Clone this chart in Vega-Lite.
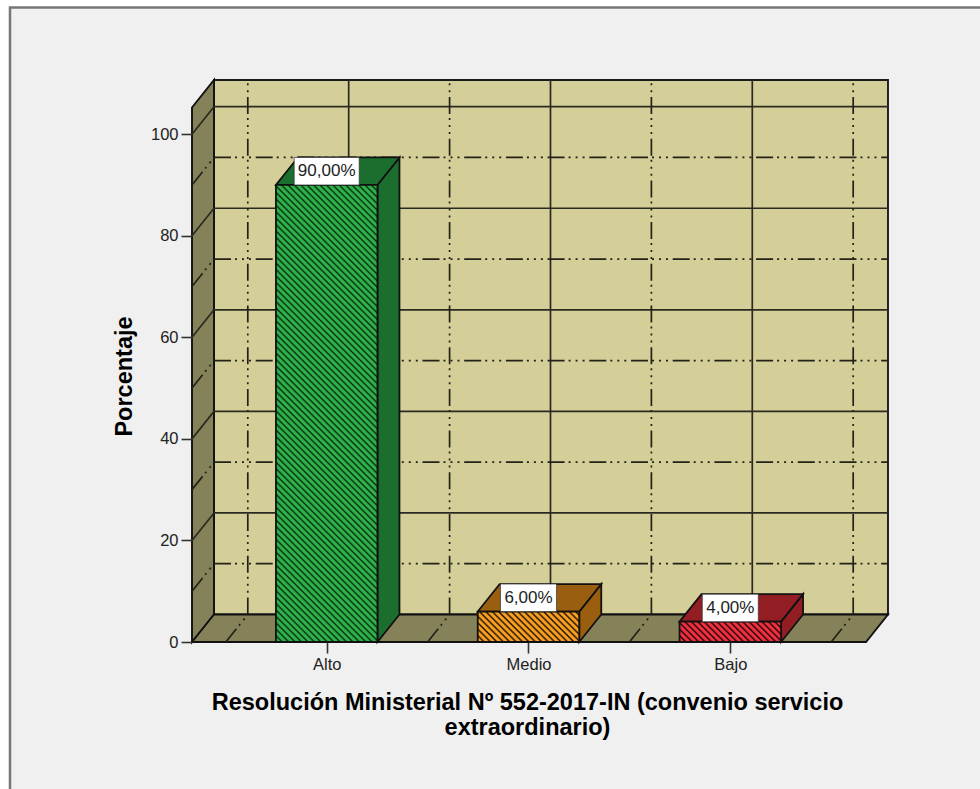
{"$schema":"https://vega.github.io/schema/vega-lite/v6.json","width":696,"height":562,"autosize":"none","padding":{"left":192,"top":80,"right":92,"bottom":147},"background":"#ffffff","config":{"view":{"stroke":null}},
"datasets":{
"barras":[{"nivel":"Alto","x":0,"y":90,"etiqueta":"90,00%"},{"nivel":"Medio","x":1,"y":6,"etiqueta":"6,00%"},{"nivel":"Bajo","x":2,"y":4,"etiqueta":"4,00%"}],
"lateral":[{"nivel":"Alto","x":0.2515,"y":0,"y2":90},{"nivel":"Alto","x":0.3605,"y":5.416,"y2":95.416},{"nivel":"Medio","x":1.2515,"y":0,"y2":6},{"nivel":"Medio","x":1.3605,"y":5.416,"y2":11.416},{"nivel":"Bajo","x":2.2515,"y":0,"y2":4},{"nivel":"Bajo","x":2.3605,"y":5.416,"y2":9.416}],
"superior":[{"nivel":"Alto","y":90,"x":-0.2515,"x2":0.2515},{"nivel":"Alto","y":95.416,"x":-0.1425,"x2":0.3605},{"nivel":"Medio","y":6,"x":0.7485,"x2":1.2515},{"nivel":"Medio","y":11.416,"x":0.8575,"x2":1.3605},{"nivel":"Bajo","y":4,"x":1.7485,"x2":2.2515},{"nivel":"Bajo","y":9.416,"x":1.8575,"x2":2.3605}],
"rejilla":[
{"t":"M","x":-0.5585,"x2":2.7815,"y":25.416,"y2":25.416},{"t":"M","x":-0.5585,"x2":2.7815,"y":45.416,"y2":45.416},{"t":"M","x":-0.5585,"x2":2.7815,"y":65.416,"y2":65.416},{"t":"M","x":-0.5585,"x2":2.7815,"y":85.416,"y2":85.416},{"t":"M","x":-0.5585,"x2":2.7815,"y":105.416,"y2":105.416},
{"t":"m","x":-0.5585,"x2":2.7815,"y":15.416,"y2":15.416},{"t":"m","x":-0.5585,"x2":2.7815,"y":35.416,"y2":35.416},{"t":"m","x":-0.5585,"x2":2.7815,"y":55.416,"y2":55.416},{"t":"m","x":-0.5585,"x2":2.7815,"y":75.416,"y2":75.416},{"t":"m","x":-0.5585,"x2":2.7815,"y":95.416,"y2":95.416},
{"t":"M","x":-0.6675,"x2":-0.5585,"y":20,"y2":25.416},{"t":"M","x":-0.6675,"x2":-0.5585,"y":40,"y2":45.416},{"t":"M","x":-0.6675,"x2":-0.5585,"y":60,"y2":65.416},{"t":"M","x":-0.6675,"x2":-0.5585,"y":80,"y2":85.416},{"t":"M","x":-0.6675,"x2":-0.5585,"y":100,"y2":105.416},
{"t":"m","x":-0.6675,"x2":-0.5585,"y":10,"y2":15.416},{"t":"m","x":-0.6675,"x2":-0.5585,"y":30,"y2":35.416},{"t":"m","x":-0.6675,"x2":-0.5585,"y":50,"y2":55.416},{"t":"m","x":-0.6675,"x2":-0.5585,"y":70,"y2":75.416},{"t":"m","x":-0.6675,"x2":-0.5585,"y":90,"y2":95.416},
{"t":"M","x":0.109,"x2":0.109,"y":5.416,"y2":110.67},{"t":"M","x":1.109,"x2":1.109,"y":5.416,"y2":110.67},{"t":"M","x":2.109,"x2":2.109,"y":5.416,"y2":110.67},
{"t":"v","x":-0.391,"x2":-0.391,"y":110.67,"y2":5.416},{"t":"v","x":0.609,"x2":0.609,"y":110.67,"y2":5.416},{"t":"v","x":1.609,"x2":1.609,"y":110.67,"y2":5.416},{"t":"v","x":2.609,"x2":2.609,"y":110.67,"y2":5.416},
{"t":"m","x":-0.5,"x2":-0.391,"y":0,"y2":5.416},{"t":"m","x":0.5,"x2":0.609,"y":0,"y2":5.416},{"t":"m","x":1.5,"x2":1.609,"y":0,"y2":5.416},{"t":"m","x":2.5,"x2":2.609,"y":0,"y2":5.416}
]},
"encoding":{
"x":{"field":"x","type":"quantitative","scale":{"domain":[-0.6675,2.7815],"nice":false,"zero":false},"axis":{"values":[0,1,2],"labelExpr":"datum.value==0?'Alto':datum.value==1?'Medio':'Bajo'","domain":false,"grid":false,"zindex":1,"tickSize":11,"tickWidth":1.6,"tickColor":"#333333","labelFont":"Liberation Sans","labelFontSize":16.5,"labelColor":"#222222","labelPadding":3,"labelFlush":false,"labelOverlap":false,"title":["Resolución Ministerial Nº 552-2017-IN (convenio servicio","extraordinario)"],"titleFont":"Liberation Sans","titleFontWeight":"bold","titleFontSize":23.5,"titleColor":"#000000","titleLineHeight":25,"titleX":335,"titleY":48,"titleBaseline":"top","titleAlign":"center"}},
"y":{"field":"y","type":"quantitative","scale":{"domain":[0,110.67],"nice":false,"zero":false},"axis":{"values":[0,20,40,60,80,100],"domain":false,"grid":false,"zindex":1,"tickSize":11,"tickWidth":1.6,"tickColor":"#333333","labelFont":"Liberation Sans","labelFontSize":16.5,"labelColor":"#222222","labelPadding":3,"labelFlush":false,"labelOverlap":false,"title":"Porcentaje","titleFont":"Liberation Sans","titleFontWeight":"bold","titleFontSize":23.5,"titleColor":"#000000","titleX":-68,"titleY":296,"titleAngle":-90,"titleAlign":"center","titleBaseline":"middle"}}
},
"layer":[
{"data":{"values":[{"x":-1.5694,"x2":3.3,"y":124.95,"y2":-30}]},"mark":{"type":"rect","fill":"#f0f0f0","stroke":"#777777","strokeWidth":2.5},"encoding":{"x2":{"field":"x2"},"y2":{"field":"y2"}}},
{"data":{"values":[{"x":-0.5585,"x2":2.7815,"y":5.416,"y2":110.67}]},"mark":{"type":"rect","fill":"#d4ce98","stroke":"#1a1a1a","strokeWidth":1.9},"encoding":{"x2":{"field":"x2"},"y2":{"field":"y2"}}},
{"data":{"values":[{"x":-0.6675,"y":0,"y2":105.25},{"x":-0.5585,"y":5.416,"y2":110.67}]},"mark":{"type":"area","fill":"#858159","stroke":"#111111","strokeWidth":1.9},"encoding":{"y2":{"field":"y2"}}},
{"data":{"values":[{"y":0,"x":-0.6675,"x2":2.6725},{"y":5.416,"x":-0.5585,"x2":2.7815}]},"mark":{"type":"area","orient":"horizontal","fill":"#858159","stroke":"#111111","strokeWidth":1.9},"encoding":{"x2":{"field":"x2"}}},
{"data":{"name":"rejilla"},"transform":[{"filter":"datum.t=='M'"}],"mark":{"type":"rule","color":"#2a2a20","strokeWidth":1.7},"encoding":{"x2":{"field":"x2"},"y2":{"field":"y2"}}},
{"data":{"name":"rejilla"},"transform":[{"filter":"datum.t=='m'"}],"mark":{"type":"rule","color":"#222218","strokeWidth":1.7,"strokeDash":[17,4,2,5,2,5,2,4.7]},"encoding":{"x2":{"field":"x2"},"y2":{"field":"y2"}}},
{"data":{"name":"rejilla"},"transform":[{"filter":"datum.t=='v'"}],"mark":{"type":"rule","color":"#222218","strokeWidth":1.7,"strokeDash":[17,4,2,5,2,5,2,4.7],"strokeDashOffset":24.7},"encoding":{"x2":{"field":"x2"},"y2":{"field":"y2"}}},
{"data":{"name":"lateral"},"mark":{"type":"area","stroke":"#111111","strokeWidth":1.8},"encoding":{"y2":{"field":"y2"},"detail":{"field":"nivel"},"color":{"field":"nivel","legend":null,"scale":{"domain":["Alto","Medio","Bajo"],"range":["#1b6e2e","#9a5e10","#921e24"]}}}},
{"data":{"name":"superior"},"mark":{"type":"area","orient":"horizontal","stroke":"#111111","strokeWidth":1.8},"encoding":{"x2":{"field":"x2"},"detail":{"field":"nivel"},"color":{"field":"nivel","legend":null,"scale":{"domain":["Alto","Medio","Bajo"],"range":["#1b6e2e","#9a5e10","#921e24"]}}}},
{"data":{"name":"barras"},"transform":[{"filter":"datum.nivel=='Alto'"}],"mark":{"type":"rect","width":101.5,"stroke":"#111111","strokeWidth":1.8,"fill":{"gradient":"linear","x1":0,"y1":1,"x2":0.2587,"y2":-0.1647,"stops":[
{"offset":0,"color":"#0a2a12"},{"offset":0.0035,"color":"#2db34a"},{"offset":0.008,"color":"#2db34a"},
{"offset":0.0115,"color":"#0a2a12"},{"offset":0.015,"color":"#2db34a"},{"offset":0.0195,"color":"#2db34a"},
{"offset":0.023,"color":"#0a2a12"},{"offset":0.0265,"color":"#2db34a"},{"offset":0.031,"color":"#2db34a"},
{"offset":0.0345,"color":"#0a2a12"},{"offset":0.038,"color":"#2db34a"},{"offset":0.0425,"color":"#2db34a"},
{"offset":0.046,"color":"#0a2a12"},{"offset":0.0495,"color":"#2db34a"},{"offset":0.054,"color":"#2db34a"},
{"offset":0.0575,"color":"#0a2a12"},{"offset":0.061,"color":"#2db34a"},{"offset":0.0655,"color":"#2db34a"},
{"offset":0.069,"color":"#0a2a12"},{"offset":0.0725,"color":"#2db34a"},{"offset":0.077,"color":"#2db34a"},
{"offset":0.0805,"color":"#0a2a12"},{"offset":0.084,"color":"#2db34a"},{"offset":0.0885,"color":"#2db34a"},
{"offset":0.092,"color":"#0a2a12"},{"offset":0.0955,"color":"#2db34a"},{"offset":0.1,"color":"#2db34a"},
{"offset":0.1035,"color":"#0a2a12"},{"offset":0.107,"color":"#2db34a"},{"offset":0.1115,"color":"#2db34a"},
{"offset":0.115,"color":"#0a2a12"},{"offset":0.1185,"color":"#2db34a"},{"offset":0.123,"color":"#2db34a"},
{"offset":0.1265,"color":"#0a2a12"},{"offset":0.13,"color":"#2db34a"},{"offset":0.1345,"color":"#2db34a"},
{"offset":0.138,"color":"#0a2a12"},{"offset":0.1415,"color":"#2db34a"},{"offset":0.146,"color":"#2db34a"},
{"offset":0.1495,"color":"#0a2a12"},{"offset":0.153,"color":"#2db34a"},{"offset":0.1575,"color":"#2db34a"},
{"offset":0.161,"color":"#0a2a12"},{"offset":0.1645,"color":"#2db34a"},{"offset":0.169,"color":"#2db34a"},
{"offset":0.1725,"color":"#0a2a12"},{"offset":0.176,"color":"#2db34a"},{"offset":0.1805,"color":"#2db34a"},
{"offset":0.184,"color":"#0a2a12"},{"offset":0.1875,"color":"#2db34a"},{"offset":0.192,"color":"#2db34a"},
{"offset":0.1955,"color":"#0a2a12"},{"offset":0.199,"color":"#2db34a"},{"offset":0.2035,"color":"#2db34a"},
{"offset":0.207,"color":"#0a2a12"},{"offset":0.2105,"color":"#2db34a"},{"offset":0.215,"color":"#2db34a"},
{"offset":0.2185,"color":"#0a2a12"},{"offset":0.222,"color":"#2db34a"},{"offset":0.2265,"color":"#2db34a"},
{"offset":0.23,"color":"#0a2a12"},{"offset":0.2335,"color":"#2db34a"},{"offset":0.238,"color":"#2db34a"},
{"offset":0.2415,"color":"#0a2a12"},{"offset":0.245,"color":"#2db34a"},{"offset":0.2495,"color":"#2db34a"},
{"offset":0.253,"color":"#0a2a12"},{"offset":0.2565,"color":"#2db34a"},{"offset":0.261,"color":"#2db34a"},
{"offset":0.2645,"color":"#0a2a12"},{"offset":0.268,"color":"#2db34a"},{"offset":0.2725,"color":"#2db34a"},
{"offset":0.276,"color":"#0a2a12"},{"offset":0.2795,"color":"#2db34a"},{"offset":0.284,"color":"#2db34a"},
{"offset":0.2875,"color":"#0a2a12"},{"offset":0.291,"color":"#2db34a"},{"offset":0.2955,"color":"#2db34a"},
{"offset":0.299,"color":"#0a2a12"},{"offset":0.3025,"color":"#2db34a"},{"offset":0.307,"color":"#2db34a"},
{"offset":0.3105,"color":"#0a2a12"},{"offset":0.314,"color":"#2db34a"},{"offset":0.3185,"color":"#2db34a"},
{"offset":0.322,"color":"#0a2a12"},{"offset":0.3255,"color":"#2db34a"},{"offset":0.33,"color":"#2db34a"},
{"offset":0.3335,"color":"#0a2a12"},{"offset":0.337,"color":"#2db34a"},{"offset":0.3415,"color":"#2db34a"},
{"offset":0.345,"color":"#0a2a12"},{"offset":0.3485,"color":"#2db34a"},{"offset":0.353,"color":"#2db34a"},
{"offset":0.3565,"color":"#0a2a12"},{"offset":0.36,"color":"#2db34a"},{"offset":0.3645,"color":"#2db34a"},
{"offset":0.368,"color":"#0a2a12"},{"offset":0.3715,"color":"#2db34a"},{"offset":0.376,"color":"#2db34a"},
{"offset":0.3795,"color":"#0a2a12"},{"offset":0.383,"color":"#2db34a"},{"offset":0.3875,"color":"#2db34a"},
{"offset":0.391,"color":"#0a2a12"},{"offset":0.3945,"color":"#2db34a"},{"offset":0.399,"color":"#2db34a"},
{"offset":0.4025,"color":"#0a2a12"},{"offset":0.406,"color":"#2db34a"},{"offset":0.4105,"color":"#2db34a"},
{"offset":0.414,"color":"#0a2a12"},{"offset":0.4175,"color":"#2db34a"},{"offset":0.422,"color":"#2db34a"},
{"offset":0.4255,"color":"#0a2a12"},{"offset":0.429,"color":"#2db34a"},{"offset":0.4335,"color":"#2db34a"},
{"offset":0.437,"color":"#0a2a12"},{"offset":0.4405,"color":"#2db34a"},{"offset":0.445,"color":"#2db34a"},
{"offset":0.4485,"color":"#0a2a12"},{"offset":0.452,"color":"#2db34a"},{"offset":0.4565,"color":"#2db34a"},
{"offset":0.46,"color":"#0a2a12"},{"offset":0.4635,"color":"#2db34a"},{"offset":0.468,"color":"#2db34a"},
{"offset":0.4715,"color":"#0a2a12"},{"offset":0.475,"color":"#2db34a"},{"offset":0.4795,"color":"#2db34a"},
{"offset":0.483,"color":"#0a2a12"},{"offset":0.4865,"color":"#2db34a"},{"offset":0.491,"color":"#2db34a"},
{"offset":0.4945,"color":"#0a2a12"},{"offset":0.498,"color":"#2db34a"},{"offset":0.5025,"color":"#2db34a"},
{"offset":0.506,"color":"#0a2a12"},{"offset":0.5095,"color":"#2db34a"},{"offset":0.514,"color":"#2db34a"},
{"offset":0.5175,"color":"#0a2a12"},{"offset":0.521,"color":"#2db34a"},{"offset":0.5255,"color":"#2db34a"},
{"offset":0.529,"color":"#0a2a12"},{"offset":0.5325,"color":"#2db34a"},{"offset":0.537,"color":"#2db34a"},
{"offset":0.5405,"color":"#0a2a12"},{"offset":0.544,"color":"#2db34a"},{"offset":0.5485,"color":"#2db34a"},
{"offset":0.552,"color":"#0a2a12"},{"offset":0.5555,"color":"#2db34a"},{"offset":0.56,"color":"#2db34a"},
{"offset":0.5635,"color":"#0a2a12"},{"offset":0.567,"color":"#2db34a"},{"offset":0.5715,"color":"#2db34a"},
{"offset":0.575,"color":"#0a2a12"},{"offset":0.5785,"color":"#2db34a"},{"offset":0.583,"color":"#2db34a"},
{"offset":0.5865,"color":"#0a2a12"},{"offset":0.59,"color":"#2db34a"},{"offset":0.5945,"color":"#2db34a"},
{"offset":0.598,"color":"#0a2a12"},{"offset":0.6015,"color":"#2db34a"},{"offset":0.606,"color":"#2db34a"},
{"offset":0.6095,"color":"#0a2a12"},{"offset":0.613,"color":"#2db34a"},{"offset":0.6175,"color":"#2db34a"},
{"offset":0.621,"color":"#0a2a12"},{"offset":0.6245,"color":"#2db34a"},{"offset":0.629,"color":"#2db34a"},
{"offset":0.6325,"color":"#0a2a12"},{"offset":0.636,"color":"#2db34a"},{"offset":0.6405,"color":"#2db34a"},
{"offset":0.644,"color":"#0a2a12"},{"offset":0.6475,"color":"#2db34a"},{"offset":0.652,"color":"#2db34a"},
{"offset":0.6555,"color":"#0a2a12"},{"offset":0.659,"color":"#2db34a"},{"offset":0.6635,"color":"#2db34a"},
{"offset":0.667,"color":"#0a2a12"},{"offset":0.6705,"color":"#2db34a"},{"offset":0.675,"color":"#2db34a"},
{"offset":0.6785,"color":"#0a2a12"},{"offset":0.682,"color":"#2db34a"},{"offset":0.6865,"color":"#2db34a"},
{"offset":0.69,"color":"#0a2a12"},{"offset":0.6935,"color":"#2db34a"},{"offset":0.698,"color":"#2db34a"},
{"offset":0.7015,"color":"#0a2a12"},{"offset":0.705,"color":"#2db34a"},{"offset":0.7095,"color":"#2db34a"},
{"offset":0.713,"color":"#0a2a12"},{"offset":0.7165,"color":"#2db34a"},{"offset":0.721,"color":"#2db34a"},
{"offset":0.7245,"color":"#0a2a12"},{"offset":0.728,"color":"#2db34a"},{"offset":0.7325,"color":"#2db34a"},
{"offset":0.736,"color":"#0a2a12"},{"offset":0.7395,"color":"#2db34a"},{"offset":0.744,"color":"#2db34a"},
{"offset":0.7475,"color":"#0a2a12"},{"offset":0.751,"color":"#2db34a"},{"offset":0.7555,"color":"#2db34a"},
{"offset":0.759,"color":"#0a2a12"},{"offset":0.7625,"color":"#2db34a"},{"offset":0.767,"color":"#2db34a"},
{"offset":0.7705,"color":"#0a2a12"},{"offset":0.774,"color":"#2db34a"},{"offset":0.7785,"color":"#2db34a"},
{"offset":0.782,"color":"#0a2a12"},{"offset":0.7855,"color":"#2db34a"},{"offset":0.79,"color":"#2db34a"},
{"offset":0.7935,"color":"#0a2a12"},{"offset":0.797,"color":"#2db34a"},{"offset":0.8015,"color":"#2db34a"},
{"offset":0.805,"color":"#0a2a12"},{"offset":0.8085,"color":"#2db34a"},{"offset":0.813,"color":"#2db34a"},
{"offset":0.8165,"color":"#0a2a12"},{"offset":0.82,"color":"#2db34a"},{"offset":0.8245,"color":"#2db34a"},
{"offset":0.828,"color":"#0a2a12"},{"offset":0.8315,"color":"#2db34a"},{"offset":0.836,"color":"#2db34a"},
{"offset":0.8395,"color":"#0a2a12"},{"offset":0.843,"color":"#2db34a"},{"offset":0.8475,"color":"#2db34a"},
{"offset":0.851,"color":"#0a2a12"},{"offset":0.8545,"color":"#2db34a"},{"offset":0.859,"color":"#2db34a"},
{"offset":0.8625,"color":"#0a2a12"},{"offset":0.866,"color":"#2db34a"},{"offset":0.8705,"color":"#2db34a"},
{"offset":0.874,"color":"#0a2a12"},{"offset":0.8775,"color":"#2db34a"},{"offset":0.882,"color":"#2db34a"},
{"offset":0.8855,"color":"#0a2a12"},{"offset":0.889,"color":"#2db34a"},{"offset":0.8935,"color":"#2db34a"},
{"offset":0.897,"color":"#0a2a12"},{"offset":0.9005,"color":"#2db34a"},{"offset":0.905,"color":"#2db34a"},
{"offset":0.9085,"color":"#0a2a12"},{"offset":0.912,"color":"#2db34a"},{"offset":0.9165,"color":"#2db34a"},
{"offset":0.92,"color":"#0a2a12"},{"offset":0.9235,"color":"#2db34a"},{"offset":0.928,"color":"#2db34a"},
{"offset":0.9315,"color":"#0a2a12"},{"offset":0.935,"color":"#2db34a"},{"offset":0.9395,"color":"#2db34a"},
{"offset":0.943,"color":"#0a2a12"},{"offset":0.9465,"color":"#2db34a"},{"offset":0.951,"color":"#2db34a"},
{"offset":0.9545,"color":"#0a2a12"},{"offset":0.958,"color":"#2db34a"},{"offset":0.9625,"color":"#2db34a"},
{"offset":0.966,"color":"#0a2a12"},{"offset":0.9695,"color":"#2db34a"},{"offset":0.974,"color":"#2db34a"},
{"offset":0.9775,"color":"#0a2a12"},{"offset":0.981,"color":"#2db34a"},{"offset":0.9855,"color":"#2db34a"},
{"offset":0.989,"color":"#0a2a12"},{"offset":0.9925,"color":"#2db34a"},{"offset":1,"color":"#2db34a"}
]}},"encoding":{"y2":{"datum":0}}},
{"data":{"name":"barras"},"transform":[{"filter":"datum.nivel=='Medio'"}],"mark":{"type":"rect","width":101.5,"stroke":"#111111","strokeWidth":1.8,"fill":{"gradient":"linear","x1":0,"y1":1,"x2":1.1929,"y2":0.6416,"stops":[
{"offset":0,"color":"#1a1000"},{"offset":0.015,"color":"#f89e20"},{"offset":0.034,"color":"#f89e20"},
{"offset":0.0486,"color":"#1a1000"},{"offset":0.0636,"color":"#f89e20"},{"offset":0.0826,"color":"#f89e20"},
{"offset":0.0972,"color":"#1a1000"},{"offset":0.1122,"color":"#f89e20"},{"offset":0.1312,"color":"#f89e20"},
{"offset":0.1458,"color":"#1a1000"},{"offset":0.1608,"color":"#f89e20"},{"offset":0.1798,"color":"#f89e20"},
{"offset":0.1944,"color":"#1a1000"},{"offset":0.2094,"color":"#f89e20"},{"offset":0.2284,"color":"#f89e20"},
{"offset":0.243,"color":"#1a1000"},{"offset":0.258,"color":"#f89e20"},{"offset":0.277,"color":"#f89e20"},
{"offset":0.2916,"color":"#1a1000"},{"offset":0.3066,"color":"#f89e20"},{"offset":0.3256,"color":"#f89e20"},
{"offset":0.3402,"color":"#1a1000"},{"offset":0.3552,"color":"#f89e20"},{"offset":0.3742,"color":"#f89e20"},
{"offset":0.3888,"color":"#1a1000"},{"offset":0.4038,"color":"#f89e20"},{"offset":0.4228,"color":"#f89e20"},
{"offset":0.4374,"color":"#1a1000"},{"offset":0.4524,"color":"#f89e20"},{"offset":0.4714,"color":"#f89e20"},
{"offset":0.486,"color":"#1a1000"},{"offset":0.501,"color":"#f89e20"},{"offset":0.52,"color":"#f89e20"},
{"offset":0.5346,"color":"#1a1000"},{"offset":0.5496,"color":"#f89e20"},{"offset":0.5686,"color":"#f89e20"},
{"offset":0.5832,"color":"#1a1000"},{"offset":0.5982,"color":"#f89e20"},{"offset":0.6172,"color":"#f89e20"},
{"offset":0.6318,"color":"#1a1000"},{"offset":0.6468,"color":"#f89e20"},{"offset":0.6658,"color":"#f89e20"},
{"offset":0.6804,"color":"#1a1000"},{"offset":0.6954,"color":"#f89e20"},{"offset":0.7144,"color":"#f89e20"},
{"offset":0.729,"color":"#1a1000"},{"offset":0.744,"color":"#f89e20"},{"offset":0.763,"color":"#f89e20"},
{"offset":0.7776,"color":"#1a1000"},{"offset":0.7926,"color":"#f89e20"},{"offset":0.8116,"color":"#f89e20"},
{"offset":0.8262,"color":"#1a1000"},{"offset":0.8412,"color":"#f89e20"},{"offset":0.8602,"color":"#f89e20"},
{"offset":0.8748,"color":"#1a1000"},{"offset":0.8898,"color":"#f89e20"},{"offset":0.9088,"color":"#f89e20"},
{"offset":0.9234,"color":"#1a1000"},{"offset":0.9384,"color":"#f89e20"},{"offset":0.9574,"color":"#f89e20"},
{"offset":0.972,"color":"#1a1000"},{"offset":0.987,"color":"#f89e20"},{"offset":1,"color":"#f89e20"}
]}},"encoding":{"y2":{"datum":0}}},
{"data":{"name":"barras"},"transform":[{"filter":"datum.nivel=='Bajo'"}],"mark":{"type":"rect","width":101.5,"stroke":"#111111","strokeWidth":1.8,"fill":{"gradient":"linear","x1":0,"y1":1,"x2":1.1539,"y2":0.7692,"stops":[
{"offset":0,"color":"#1a0406"},{"offset":0.016,"color":"#f0303f"},{"offset":0.037,"color":"#f0303f"},
{"offset":0.0527,"color":"#1a0406"},{"offset":0.0687,"color":"#f0303f"},{"offset":0.0897,"color":"#f0303f"},
{"offset":0.1054,"color":"#1a0406"},{"offset":0.1214,"color":"#f0303f"},{"offset":0.1424,"color":"#f0303f"},
{"offset":0.1581,"color":"#1a0406"},{"offset":0.1741,"color":"#f0303f"},{"offset":0.1951,"color":"#f0303f"},
{"offset":0.2108,"color":"#1a0406"},{"offset":0.2268,"color":"#f0303f"},{"offset":0.2478,"color":"#f0303f"},
{"offset":0.2635,"color":"#1a0406"},{"offset":0.2795,"color":"#f0303f"},{"offset":0.3005,"color":"#f0303f"},
{"offset":0.3162,"color":"#1a0406"},{"offset":0.3322,"color":"#f0303f"},{"offset":0.3532,"color":"#f0303f"},
{"offset":0.3689,"color":"#1a0406"},{"offset":0.3849,"color":"#f0303f"},{"offset":0.4059,"color":"#f0303f"},
{"offset":0.4216,"color":"#1a0406"},{"offset":0.4376,"color":"#f0303f"},{"offset":0.4586,"color":"#f0303f"},
{"offset":0.4743,"color":"#1a0406"},{"offset":0.4903,"color":"#f0303f"},{"offset":0.5113,"color":"#f0303f"},
{"offset":0.527,"color":"#1a0406"},{"offset":0.543,"color":"#f0303f"},{"offset":0.564,"color":"#f0303f"},
{"offset":0.5797,"color":"#1a0406"},{"offset":0.5957,"color":"#f0303f"},{"offset":0.6167,"color":"#f0303f"},
{"offset":0.6324,"color":"#1a0406"},{"offset":0.6484,"color":"#f0303f"},{"offset":0.6694,"color":"#f0303f"},
{"offset":0.6851,"color":"#1a0406"},{"offset":0.7011,"color":"#f0303f"},{"offset":0.7221,"color":"#f0303f"},
{"offset":0.7378,"color":"#1a0406"},{"offset":0.7538,"color":"#f0303f"},{"offset":0.7748,"color":"#f0303f"},
{"offset":0.7905,"color":"#1a0406"},{"offset":0.8065,"color":"#f0303f"},{"offset":0.8275,"color":"#f0303f"},
{"offset":0.8432,"color":"#1a0406"},{"offset":0.8592,"color":"#f0303f"},{"offset":0.8802,"color":"#f0303f"},
{"offset":0.8959,"color":"#1a0406"},{"offset":0.9119,"color":"#f0303f"},{"offset":0.9329,"color":"#f0303f"},
{"offset":0.9486,"color":"#1a0406"},{"offset":0.9646,"color":"#f0303f"},{"offset":1,"color":"#f0303f"}
]}},"encoding":{"y2":{"datum":0}}},
{"data":{"name":"barras"},"transform":[{"filter":"datum.nivel=='Alto'"}],"mark":{"type":"rect","width":65,"height":27.5,"yOffset":-13.75,"fill":"#ffffff","stroke":"#333333","strokeWidth":0.7}},
{"data":{"name":"barras"},"transform":[{"filter":"datum.nivel!='Alto'"}],"mark":{"type":"rect","width":56,"height":27.5,"yOffset":-13.75,"fill":"#ffffff","stroke":"#333333","strokeWidth":0.7}},
{"data":{"name":"barras"},"mark":{"type":"text","font":"Liberation Sans","fontSize":17,"color":"#222222","baseline":"middle","align":"center","yOffset":-13.5},"encoding":{"text":{"field":"etiqueta"}}}
]}
